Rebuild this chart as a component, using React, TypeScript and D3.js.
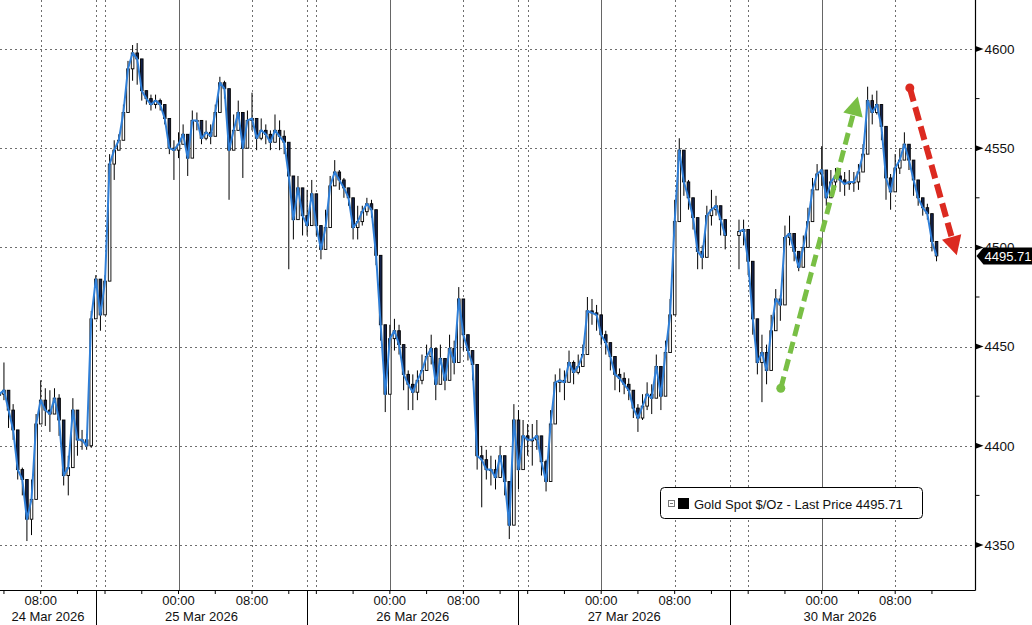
import React from 'react';
import * as d3 from 'd3';

// Gold Spot $/Oz – 30‑minute bars, each [high, low, close]; open = previous close.
// Time axis is "chart hours" since 24 Mar 00:00 with non-trading time removed.
const BAR_HOURS = 0.5;

const bars24Mar: number[][] = [
  [4438, 4418, 4426], [4442, 4423, 4428], [4426, 4409, 4418], [4421, 4403, 4408],
  [4403, 4383, 4388], [4389, 4375, 4383], [4378, 4352, 4363], [4383, 4355, 4373],
  [4416, 4388, 4411], [4433, 4413, 4423], [4429, 4410, 4418], [4428, 4407, 4416],
  [4429, 4417, 4424], [4426, 4405, 4413], [4400, 4380, 4385], [4395, 4375, 4389],
  [4424, 4403, 4418], [4411, 4395, 4403], [4408, 4398, 4403], [4406, 4398, 4400],
  [4468, 4399, 4464],
];
const bars25Mar: number[][] = [
  [4486, 4473, 4484], [4471, 4458, 4466], [4486, 4476, 4483], [4547, 4499, 4542],
  [4554, 4534, 4549], [4557, 4549, 4554], [4572, 4562, 4568], [4594, 4577, 4590],
  [4602, 4584, 4598], [4603, 4582, 4595], [4589, 4574, 4579], [4579, 4572, 4575],
  [4577, 4569, 4572], [4577, 4570, 4574], [4575, 4569, 4572], [4572, 4562, 4565],
  [4559, 4547, 4550], [4554, 4534, 4549], [4558, 4545, 4552], [4562, 4552, 4557],
  [4554, 4536, 4545], [4569, 4557, 4564], [4568, 4559, 4564], [4564, 4552, 4555],
  [4564, 4554, 4558], [4562, 4552, 4556], [4572, 4562, 4568], [4586, 4579, 4583],
  [4584, 4575, 4580], [4577, 4524, 4549], [4567, 4552, 4559], [4574, 4559, 4568],
  [4560, 4535, 4550], [4569, 4557, 4564], [4578, 4559, 4565], [4564, 4549, 4555],
  [4565, 4554, 4559], [4562, 4552, 4557], [4559, 4549, 4553], [4567, 4554, 4559],
  [4564, 4549, 4556], [4559, 4547, 4553], [4544, 4489, 4536], [4526, 4504, 4514],
  [4536, 4524, 4530], [4526, 4506, 4516],
];
const bars26Mar: number[][] = [
  [4529, 4506, 4511], [4534, 4521, 4527], [4526, 4506, 4511], [4509, 4494, 4499],
  [4519, 4501, 4510], [4536, 4524, 4531], [4544, 4531, 4538], [4539, 4529, 4534],
  [4535, 4525, 4530], [4529, 4521, 4525], [4519, 4504, 4510], [4521, 4504, 4513],
  [4521, 4511, 4518], [4525, 4516, 4522], [4524, 4515, 4519], [4511, 4491, 4496],
  [4479, 4453, 4461], [4441, 4417, 4426], [4461, 4438, 4454], [4464, 4448, 4458],
  [4461, 4446, 4451], [4446, 4428, 4436], [4438, 4418, 4431], [4436, 4418, 4427],
  [4438, 4423, 4433], [4446, 4431, 4438], [4451, 4438, 4445], [4456, 4441, 4449],
  [4443, 4423, 4431], [4451, 4438, 4444], [4443, 4428, 4433], [4456, 4438, 4449],
  [4453, 4436, 4442], [4480, 4463, 4474], [4468, 4448, 4456], [4456, 4443, 4448],
  [4448, 4433, 4441], [4426, 4388, 4395], [4400, 4369, 4393], [4398, 4383, 4388],
  [4395, 4380, 4388], [4393, 4378, 4384], [4400, 4388, 4395], [4390, 4375, 4382],
  [4373, 4353, 4360], [4421, 4368, 4413],
];
const bars27Mar: number[][] = [
  [4418, 4378, 4388], [4413, 4398, 4405], [4411, 4395, 4403], [4411, 4390, 4403],
  [4413, 4398, 4405], [4400, 4385, 4392], [4393, 4377, 4382], [4418, 4398, 4411],
  [4436, 4423, 4432], [4439, 4427, 4433], [4438, 4423, 4432], [4448, 4436, 4442],
  [4443, 4431, 4437], [4446, 4436, 4440], [4451, 4441, 4446], [4475, 4446, 4468],
  [4474, 4461, 4467], [4471, 4458, 4466], [4463, 4451, 4456], [4458, 4446, 4452],
  [4451, 4438, 4445], [4443, 4428, 4436], [4439, 4427, 4434], [4437, 4426, 4431],
  [4434, 4423, 4428], [4426, 4414, 4419], [4421, 4407, 4414], [4426, 4413, 4420],
  [4432, 4418, 4426], [4431, 4416, 4424], [4446, 4431, 4440], [4438, 4418, 4425],
  [4453, 4428, 4447], [4474, 4458, 4466], [4524, 4484, 4513], [4555, 4542, 4549],
  [4539, 4526, 4533], [4534, 4519, 4525], [4521, 4509, 4515], [4506, 4489, 4498],
  [4501, 4489, 4495], [4521, 4504, 4516], [4529, 4511, 4519], [4526, 4516, 4521],
  [4521, 4506, 4514], [4514, 4499, 4506],
];
const bars30Mar: number[][] = [
  [4514, 4489, 4508], [4514, 4501, 4509], [4504, 4486, 4493], [4476, 4456, 4464],
  [4451, 4436, 4442], [4456, 4422, 4447], [4451, 4431, 4438], [4466, 4443, 4458],
  [4479, 4464, 4474], [4476, 4463, 4471], [4511, 4491, 4505], [4516, 4501, 4507],
  [4504, 4493, 4498], [4496, 4488, 4490], [4506, 4491, 4500], [4520, 4505, 4513],
  [4535, 4521, 4529], [4542, 4530, 4537], [4551, 4531, 4539], [4534, 4521, 4525],
  [4539, 4526, 4533], [4540, 4529, 4536], [4540, 4528, 4534], [4538, 4526, 4532],
  [4539, 4529, 4533], [4538, 4528, 4533], [4542, 4529, 4538], [4552, 4539, 4547],
  [4581, 4549, 4574], [4577, 4562, 4568], [4579, 4567, 4572], [4572, 4554, 4561],
  [4554, 4524, 4535], [4537, 4519, 4528], [4547, 4534, 4540], [4550, 4537, 4544],
  [4558, 4545, 4552], [4550, 4539, 4544], [4540, 4526, 4534], [4532, 4521, 4525],
  [4525, 4516, 4520], [4522, 4514, 4517], [4511, 4498, 4503], [4499, 4493, 4495.71],
];

const sessions = [
  { date: '24 Mar 2026', from: 3.57, to: 14, firstBar: 3.5, bars: bars24Mar, lineGroup: 0 },
  { date: '25 Mar 2026', from: 14, to: 37, firstBar: 14, bars: bars25Mar, lineGroup: 0 },
  { date: '26 Mar 2026', from: 37, to: 60, firstBar: 37, bars: bars26Mar, lineGroup: 0 },
  { date: '27 Mar 2026', from: 60, to: 83, firstBar: 60, bars: bars27Mar, lineGroup: 0 },
  { date: '30 Mar 2026', from: 83, to: 107, firstBar: 84, bars: bars30Mar, lineGroup: 1 },
];

const LAST_PRICE = 4495.71;
const SERIES_NAME = 'Gold Spot $/Oz - Last Price';

const yTicks = [4350, 4400, 4450, 4500, 4550, 4600];
const yMinorTicks = [4375, 4425, 4475, 4525, 4575];

const timeLabels = [
  { h: 8, label: '08:00' }, { h: 23, label: '00:00' }, { h: 31, label: '08:00' },
  { h: 46, label: '00:00' }, { h: 54, label: '08:00' }, { h: 69, label: '00:00' },
  { h: 77, label: '08:00' }, { h: 93, label: '00:00' }, { h: 101, label: '08:00' },
];
const midnightLines = [23, 46, 69, 93];
const dottedLines = [8, 15, 31, 38, 54, 61, 77, 85, 101];
const sessionBreaks = [14, 37, 60, 83];
const minorTimeTicks = [4, 8, 12, 15, 19, 23, 27, 31, 35, 38, 42, 46, 50, 54, 58, 61, 65, 69, 73, 77, 81, 85, 89, 93, 97, 101, 105];

// annotation arrows: [hour, price] start -> end
const greenArrow = { from: [88.55, 4429], to: [96.93, 4576], color: '#79bf45' };
const redArrow = { from: [102.59, 4580.4], to: [107.7, 4496], color: '#dc2a20' };

const FONT = '"Liberation Sans", Arial, sans-serif';

function Arrow({ a, x, y, width, dash }: any) {
  const x1 = x(a.from[0]), y1 = y(a.from[1]);
  const x2 = x(a.to[0]), y2 = y(a.to[1]);
  const dx = x2 - x1, dy = y2 - y1;
  const len = Math.hypot(dx, dy);
  const ux = dx / len, uy = dy / len;
  const headLen = 19, headHalf = 10;
  const bx = x2 - ux * headLen, by = y2 - uy * headLen;
  const px = -uy, py = ux;
  const head = [
    [x2, y2],
    [bx + px * headHalf, by + py * headHalf],
    [bx - px * headHalf, by - py * headHalf],
  ];
  return (
    <g>
      <circle cx={x1} cy={y1} r={4.5} fill={a.color} />
      <line x1={x1} y1={y1} x2={bx + ux * 2} y2={by + uy * 2} stroke={a.color} strokeWidth={width} strokeDasharray={dash} />
      <polygon points={head.map((p) => p.join(',')).join(' ')} fill={a.color} />
    </g>
  );
}

export default function App() {
  const W = 1032, H = 625;
  const plotRight = 975.5, plotBottom = 590;
  const x = d3.scaleLinear().domain([3.57, 109.74]).range([0, plotRight]);
  const y = d3.scaleLinear().domain([4350, 4600]).range([545, 49]);

  const candles: any[] = [];
  let prevClose: number | null = null;
  sessions.forEach((s) => {
    s.bars.forEach(([hi, lo, c], i) => {
      const h = s.firstBar + i * BAR_HOURS;
      const o = prevClose ?? c;
      candles.push({ h, o, c, hi: Math.max(hi, o, c), lo: Math.min(lo, o, c), g: s.lineGroup });
      prevClose = c;
    });
  });
  const groups = d3.groups(candles, (d) => d.g).map((g) => g[1]);
  const line = d3.line<any>().x((d) => x(d.h)).y((d) => y(d.c));

  const bw = 2.6;
  const yl = y(LAST_PRICE);

  return (
    <svg width={W} height={H} style={{ position: 'absolute', left: 0, top: 0, background: '#fff' }} fontFamily={FONT}>
      <defs>
        <clipPath id="plot"><rect x={0} y={0} width={plotRight} height={plotBottom} /></clipPath>
      </defs>
      <rect x={0} y={0} width={W} height={H} fill="#fff" />
      {/* grid */}
      <g stroke="#6e6e6e" strokeWidth={1}>
        {yTicks.map((t) => (
          <line key={t} x1={0} x2={plotRight} y1={Math.round(y(t)) + 0.5} y2={Math.round(y(t)) + 0.5} strokeDasharray="2,3" />
        ))}
        {dottedLines.concat(sessionBreaks).map((h) => (
          <line key={'d' + h} x1={Math.round(x(h)) + 0.5} x2={Math.round(x(h)) + 0.5} y1={0} y2={plotBottom} strokeDasharray="2,3" />
        ))}
        {midnightLines.map((h) => (
          <line key={'m' + h} x1={Math.round(x(h)) + 0.5} x2={Math.round(x(h)) + 0.5} y1={0} y2={plotBottom} stroke="#666" />
        ))}
      </g>
      {/* price series */}
      <g clipPath="url(#plot)">
        {candles.map((d, i) => {
          const cx = x(d.h);
          const up = d.c >= d.o;
          const top = y(Math.max(d.o, d.c));
          const hgt = Math.max(1, Math.abs(y(d.o) - y(d.c)));
          return (
            <g key={i}>
              <line x1={cx} x2={cx} y1={y(d.hi)} y2={y(d.lo)} stroke="#000" strokeWidth={1} />
              <rect x={cx - bw / 2} y={top} width={bw} height={hgt} fill={up ? '#fff' : '#13224a'} stroke="#000" strokeWidth={0.9} />
            </g>
          );
        })}
        {groups.map((g, i) => (
          <path key={i} d={line(g) || ''} fill="none" stroke="#2f7fd8" strokeWidth={2} strokeLinejoin="round" />
        ))}
      </g>
      {/* axes */}
      <line x1={plotRight} x2={plotRight} y1={0} y2={plotBottom + 0.5} stroke="#000" strokeWidth={1.2} />
      <line x1={0} x2={plotRight} y1={plotBottom + 0.5} y2={plotBottom + 0.5} stroke="#000" strokeWidth={1.2} />
      {yMinorTicks.map((t) => (
        <line key={t} x1={plotRight} x2={plotRight + 4} y1={y(t)} y2={y(t)} stroke="#000" />
      ))}
      {yTicks.map((t) => (
        <g key={t}>
          <polygon points={`${plotRight},${y(t) - 3} ${plotRight + 8},${y(t)} ${plotRight},${y(t) + 3}`} fill="#000" />
          <text x={plotRight + 9} y={y(t)} dy="0.35em" fontSize={13.5} fill="#111">{t}</text>
        </g>
      ))}
      {/* last price tag */}
      <polygon
        points={`${plotRight + 1},${yl} ${plotRight + 8},${yl - 8.5} ${W},${yl - 8.5} ${W},${yl + 8.5} ${plotRight + 8},${yl + 8.5}`}
        fill="#000"
      />
      <text x={plotRight + 9} y={yl} dy="0.36em" fontSize={13} fill="#fff">{LAST_PRICE.toFixed(2)}</text>
      {/* time axis */}
      {minorTimeTicks.map((h) => (
        <line key={h} x1={x(h)} x2={x(h)} y1={plotBottom} y2={plotBottom + 4} stroke="#000" />
      ))}
      {sessionBreaks.map((h) => (
        <line key={h} x1={Math.round(x(h)) + 0.5} x2={Math.round(x(h)) + 0.5} y1={plotBottom} y2={H} stroke="#000" />
      ))}
      {timeLabels.map((t, i) => (
        <text key={i} x={x(t.h)} y={605} textAnchor="middle" fontSize={13} fill="#111">{t.label}</text>
      ))}
      {sessions.map((s) => (
        <text key={s.date} x={(x(s.from) + x(s.to)) / 2} y={621} textAnchor="middle" fontSize={13} fill="#111">{s.date}</text>
      ))}
      {/* annotations */}
      <Arrow a={greenArrow} x={x} y={y} width={5} dash="12,6" />
      <Arrow a={redArrow} x={x} y={y} width={6} dash="14,6" />
      {/* legend */}
      <g>
        <rect x={660.5} y={487.5} width={262} height={31} rx={4} fill="#fff" stroke="#000" />
        <rect x={668.5} y={500.5} width={6} height={6} fill="#fff" stroke="#777" />
        <line x1={670} x2={673} y1={503.5} y2={503.5} stroke="#777" />
        <rect x={678} y={498} width={11} height={11} fill="#000" />
        <text x={694} y={508.5} fontSize={13} fill="#111">{`${SERIES_NAME} ${LAST_PRICE.toFixed(2)}`}</text>
      </g>
    </svg>
  );
}
